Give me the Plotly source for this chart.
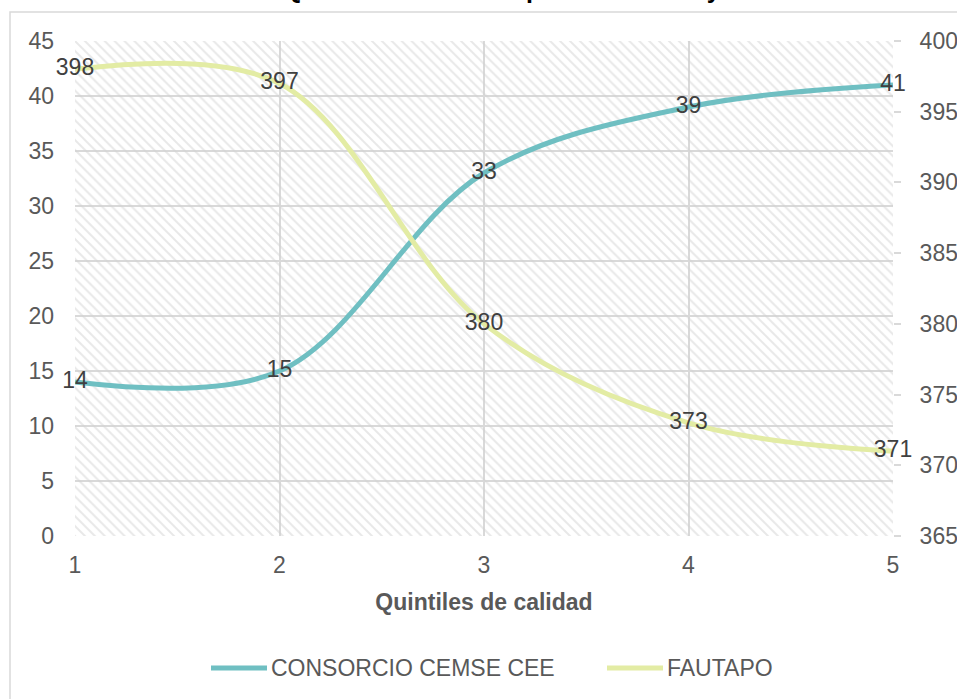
import plotly.graph_objects as go

# Datos
quintiles = [1, 2, 3, 4, 5]
cemse_cee = [14, 15, 33, 39, 41]
fautapo = [398, 397, 380, 373, 371]
serie_names = ["CONSORCIO CEMSE CEE", "FAUTAPO"]
left_range = [0, 45]
right_range = [365, 400]

FONT = "Liberation Sans, Arial, sans-serif"
TEAL = "#6fbfc2"
LIME = "#e3eca4"
GRID = "#d9d9d9"
TXT = "#595959"

W, H = 957, 699
M_L, M_R, M_T, M_B = 75, 64, 41, 163
PW, PH = W - M_L - M_R, H - M_T - M_B


def px_x(p):
    return (p - M_L) / PW


def px_y(p):
    return 1 - (p - M_T) / PH


fig = go.Figure()

# hatched plot-area background
fig.add_trace(go.Scatter(
    x=[quintiles[0], quintiles[-1], quintiles[-1], quintiles[0], quintiles[0]],
    y=[left_range[0], left_range[0], left_range[1], left_range[1], left_range[0]],
    mode="none", fill="toself", fillcolor="rgba(0,0,0,0)",
    fillpattern=dict(shape="\\", size=7, solidity=0.28,
                     fgcolor="#d2d2d2", bgcolor="rgba(0,0,0,0)"),
    hoverinfo="skip", showlegend=False,
))

series = [(cemse_cee, TEAL, "y"), (fautapo, LIME, "y2")]
for name, (vals, color, axis) in zip(serie_names, series):
    fig.add_trace(go.Scatter(
        x=quintiles, y=vals, name=name,
        mode="lines+text", text=[str(v) for v in vals],
        textposition="middle center", cliponaxis=False,
        textfont=dict(family=FONT, size=23, color="#404040"),
        line=dict(color=color, width=5, shape="spline", smoothing=1.0),
        yaxis=axis, showlegend=False,
    ))

fig.update_layout(
    width=W, height=H,
    margin=dict(l=M_L, r=M_R, t=M_T, b=M_B, autoexpand=False),
    paper_bgcolor="white", plot_bgcolor="white",
    font=dict(family=FONT, size=23, color=TXT),
    xaxis=dict(
        range=[quintiles[0], quintiles[-1]], tickvals=quintiles,
        showgrid=True, gridcolor=GRID, gridwidth=1.5, zeroline=False,
        showline=False, ticks="", tickfont=dict(size=23, color=TXT),
        ticklabelstandoff=13,
        title=dict(text="<b>Quintiles de calidad</b>",
                   font=dict(size=23, color=TXT), standoff=16),
    ),
    yaxis=dict(
        range=left_range, dtick=5, showgrid=True, gridcolor=GRID, gridwidth=1.5,
        zeroline=False, showline=False, ticks="",
        tickfont=dict(size=23, color=TXT), ticklabelstandoff=20,
    ),
    yaxis2=dict(
        range=right_range, dtick=5, overlaying="y", side="right",
        showgrid=False, zeroline=False, showline=False,
        ticks="outside", ticklen=7, tickcolor=GRID, tickwidth=1.5,
        tickfont=dict(size=23, color=TXT), ticklabelstandoff=14,
    ),
    showlegend=False,
)

# chart frame
fig.add_shape(type="rect", xref="paper", yref="paper",
              x0=px_x(10), x1=px_x(W + 40), y0=px_y(12), y1=px_y(H + 40),
              line=dict(color="#d9d9d9", width=1.5), fillcolor="rgba(0,0,0,0)",
              layer="below")

# legend: line sample + label for each series
legend_items = [(serie_names[0], TEAL, 211), (serie_names[1], LIME, 607)]
legend_y = px_y(668)
for name, color, x0 in legend_items:
    fig.add_shape(type="line", xref="paper", yref="paper",
                  x0=px_x(x0), x1=px_x(x0 + 56), y0=legend_y, y1=legend_y,
                  line=dict(color=color, width=5))
    fig.add_annotation(text=name, xref="paper", yref="paper",
                       x=px_x(x0 + 58), y=legend_y, xanchor="left",
                       yanchor="middle", showarrow=False,
                       font=dict(family=FONT, size=23, color=TXT))

# chart title
fig.add_annotation(
    text="<b>Quintiles de calidad por institución y año</b>",
    xref="paper", yref="paper", x=px_x(281), y=px_y(5),
    xanchor="left", yanchor="bottom", showarrow=False,
    font=dict(family=FONT, size=25, color="#000000"),
)

fig.write_html("out.html")
